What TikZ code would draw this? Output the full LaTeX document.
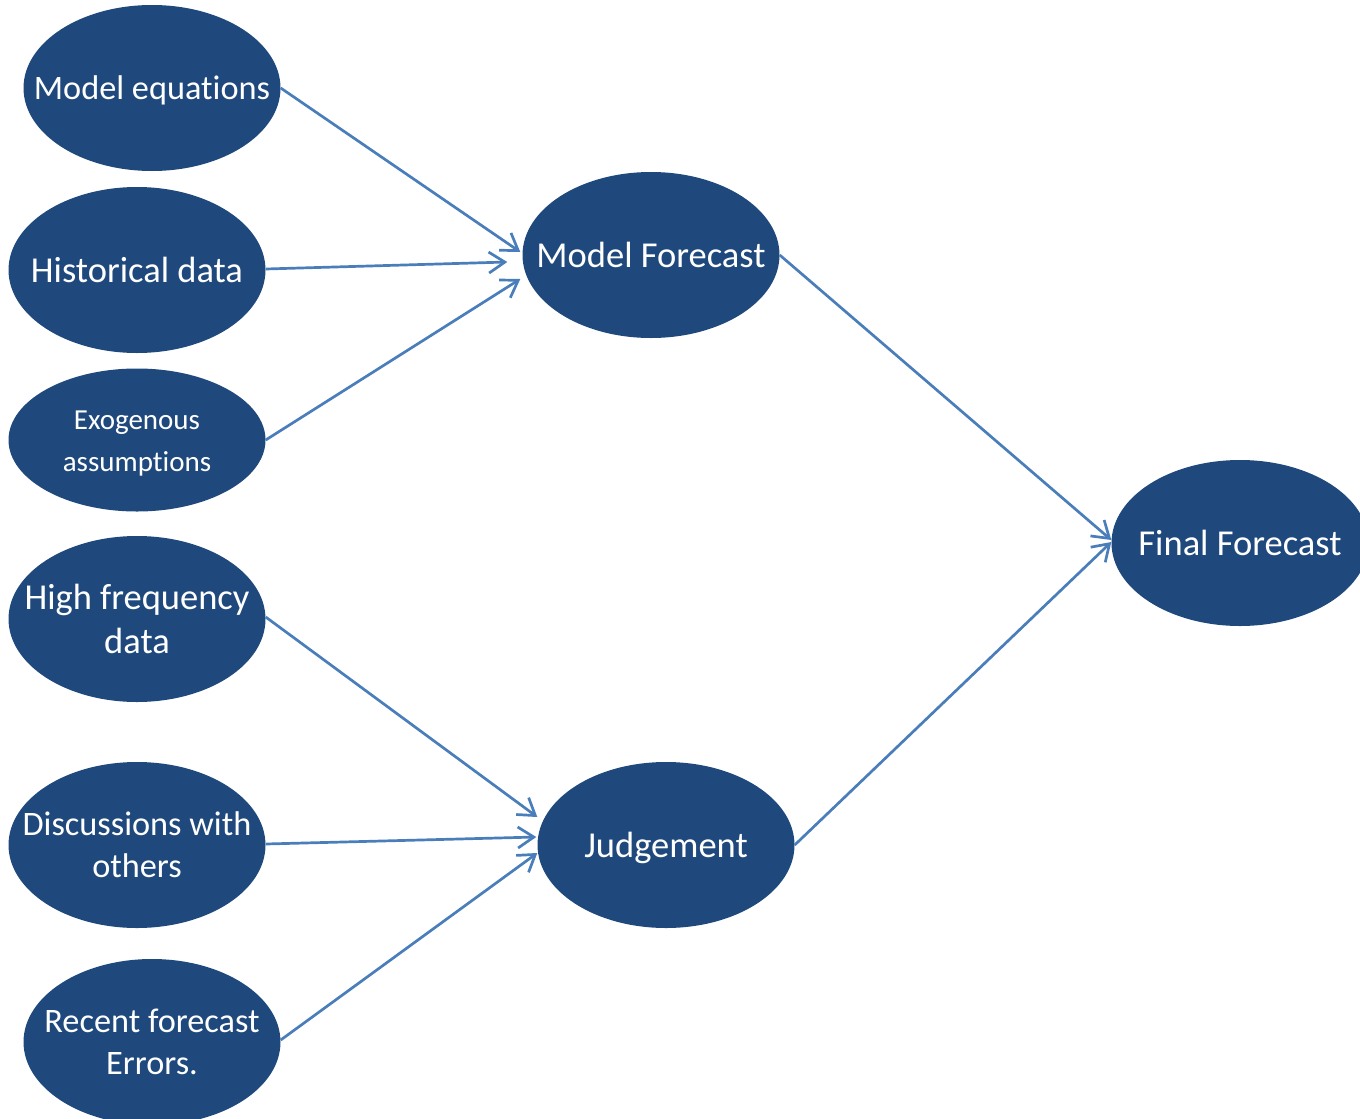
\documentclass[tikz,border=0pt]{standalone}
\usepackage{fontspec}
\setmainfont{Carlito}[RawFeature={-liga;-clig;-dlig;-calt}]
\usetikzlibrary{shapes.geometric,arrows.meta,calc}
\definecolor{nodefill}{RGB}{31,73,125}
\definecolor{arrowblue}{RGB}{74,126,187}
\tikzset{
  bub/.style={ellipse, fill=nodefill, draw=none,
    inner sep=0pt, minimum width=257pt, minimum height=166pt},
  txt/.style={text=white, align=center, inner sep=0pt},
  big/.style={font=\fontsize{36.5}{44}\selectfont},
  mid/.style={font=\fontsize{34.3}{42}\selectfont},
  small/.style={font=\fontsize{29}{42}\selectfont},
  conn/.style={draw=arrowblue, line width=2.7pt,
    -{Straight Barb[length=16pt,width=21pt,line width=2.7pt]}},
}
\begin{document}
\begin{tikzpicture}[x=1pt,y=-1pt]
\useasboundingbox (0,0) rectangle (1360,1119);
\node[bub,label={[txt,mid,yshift=-2pt]center:Model equations}] (me) at (152,88) {};
\node[bub,label={[txt,big]center:Historical data}] (hd) at (137,270) {};
\node[bub,minimum height=143pt,label={[txt,small,yshift=-4pt]center:Exogenous\\assumptions}] (ex) at (137,440) {};
\node[bub,label={[txt,big]center:High frequency\\data}] (hf) at (137,619) {};
\node[bub,label={[txt,mid]center:Discussions with\\others}] (dw) at (137,845) {};
\node[bub,label={[txt,mid]center:Recent forecast\\Errors.}] (rf) at (152,1042) {};
\node[bub,label={[txt,big]center:Model Forecast}] (mf) at (651,255) {};
\node[bub,label={[txt,big,yshift=-3pt]center:Judgement}] (jd) at (666,845) {};
\node[bub,label={[txt,big]center:Final Forecast}] (ff) at (1240,543) {};
\draw[conn] (me.east) -- ($(mf.west)+(-2,-3)$);
\draw[conn] ($(hd.east)+(0,-1)$) -- ($(mf.west)+(-15,7)$);
\draw[conn] (ex.east) -- ($(mf.west)+(-2,24)$);
\draw[conn] ($(hf.east)+(0,-2)$) -- ($(jd.west)+(0,-28)$);
\draw[conn] ($(dw.east)+(0,-1)$) -- ($(jd.west)+(-1,-8)$);
\draw[conn] ($(rf.east)+(0,-2)$) -- ($(jd.west)+(0,8)$);
\draw[conn] (mf.east) -- ($(ff.west)+(0,-3)$);
\draw[conn] (jd.east) -- ($(ff.west)+(0,-1)$);
\end{tikzpicture}
\end{document}
